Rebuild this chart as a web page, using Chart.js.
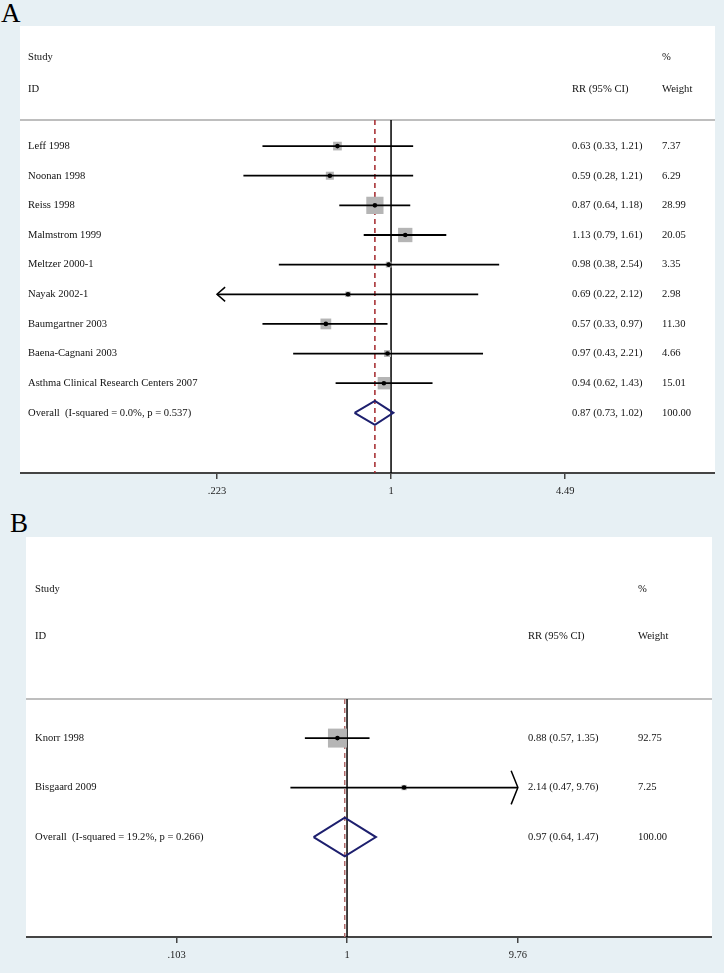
<!DOCTYPE html>
<html>
<head>
<meta charset="utf-8">
<script src="https://cdn.jsdelivr.net/npm/chart.js@4.4.1/dist/chart.umd.min.js"></script>
<style>
  html, body { margin: 0; padding: 0; }
  body { width: 724px; height: 973px; background: #e7f0f4; position: relative; overflow: hidden; font-family: "Liberation Serif", serif; }
  .panel-letter { position: absolute; font-size: 27px; line-height: 1; color: #000; }
  canvas { position: absolute; }
</style>
</head>
<body>
<div class="panel-letter" style="left:1px; top:0px;">A</div>
<div class="panel-letter" style="left:10px; top:510px;">B</div>
<canvas id="forestA" width="695" height="477" style="left:20px; top:26px;"></canvas>
<canvas id="forestB" width="686" height="430" style="left:26px; top:537px;"></canvas>
<script>
// ---- Panel A data ----
const studiesA = ['Leff 1998', 'Noonan 1998', 'Reiss 1998', 'Malmstrom 1999', 'Meltzer 2000-1',
  'Nayak 2002-1', 'Baumgartner 2003', 'Baena-Cagnani 2003', 'Asthma Clinical Research Centers 2007'];
const rrA = [0.63, 0.59, 0.87, 1.13, 0.98, 0.69, 0.57, 0.97, 0.94];
const lowA = [0.33, 0.28, 0.64, 0.79, 0.38, 0.22, 0.33, 0.43, 0.62];
const highA = [1.21, 1.21, 1.18, 1.61, 2.54, 2.12, 0.97, 2.21, 1.43];
const weightA = [7.37, 6.29, 28.99, 20.05, 3.35, 2.98, 11.30, 4.66, 15.01];
const overallLabelA = 'Overall  (I-squared = 0.0%, p = 0.537)';
const overallA = [0.87, 0.73, 1.02]; // estimate, low, high
const ticksA = [0.223, 1, 4.49];
const tickLabelsA = ['.223', '1', '4.49'];

// ---- Panel B data ----
const studiesB = ['Knorr 1998', 'Bisgaard 2009'];
const rrB = [0.88, 2.14];
const lowB = [0.57, 0.47];
const highB = [1.35, 9.76];
const weightB = [92.75, 7.25];
const overallLabelB = 'Overall  (I-squared = 19.2%, p = 0.266)';
const overallB = [0.97, 0.64, 1.47];
const ticksB = [0.103, 1, 9.76];
const tickLabelsB = ['.103', '1', '9.76'];

const FONT = '"Liberation Serif", "Times New Roman", serif';

// texto de columnas (estudio, RR, peso) dibujado sobre el canvas
const forestText = {
  id: 'forestText',
  beforeDraw(chart, args, o) {
    const { ctx, chartArea } = chart;
    ctx.save();
    ctx.fillStyle = '#ffffff';
    ctx.fillRect(0, 0, chart.width, chartArea.bottom);
    // linea separadora del encabezado
    ctx.strokeStyle = '#a8a8a8';
    ctx.lineWidth = 1.5;
    ctx.beginPath();
    ctx.moveTo(0, chartArea.top);
    ctx.lineTo(chart.width, chartArea.top);
    ctx.stroke();
    ctx.restore();
  },
  afterDraw(chart, args, o) {
    const { ctx } = chart;
    const y = chart.scales.y;
    ctx.save();
    ctx.font = `${o.size}px ${FONT}`;
    ctx.fillStyle = '#111';
    ctx.textBaseline = 'middle';
    ctx.textAlign = 'left';
    ctx.fillText('Study', o.nameX, o.head1);
    ctx.fillText('%', o.wX, o.head1);
    ctx.fillText('ID', o.nameX, o.head2);
    ctx.fillText('RR (95% CI)', o.rrX, o.head2);
    ctx.fillText('Weight', o.wX, o.head2);
    const rows = o.names.map((n, i) => [n, o.rr[i], o.low[i], o.high[i], o.weight[i]]);
    rows.push([o.overallLabel, o.overall[0], o.overall[1], o.overall[2], 100]);
    rows.forEach((r, i) => {
      const py = y.getPixelForValue(i);
      ctx.fillText(r[0], o.nameX, py);
      ctx.fillText(`${r[1].toFixed(2)} (${r[2].toFixed(2)}, ${r[3].toFixed(2)})`, o.rrX, py);
      ctx.fillText(r[4].toFixed(2), o.wX, py);
    });
    ctx.restore();
  }
};

function buildForest(canvasId, p) {
  const n = p.names.length;
  const tMin = p.ticks[0];
  const tMax = p.ticks[p.ticks.length - 1];
  const datasets = [];
  const line = (data, color, width, order, extra = {}) => ({
    data, showLine: true, borderColor: color, borderWidth: width,
    pointRadius: 0, tension: 0, order, ...extra
  });

  // lineas verticales: RR = 1 y efecto global
  datasets.push(line([{ x: 1, y: p.yMin }, { x: 1, y: p.yMax }], '#000', 1.5, 9));
  datasets.push(line([{ x: p.overall[0], y: p.yMin }, { x: p.overall[0], y: p.yMax }],
    p.dashColor, 1.5, 8, { borderDash: [5, 4] }));

  // cajas proporcionales al peso
  datasets.push({
    data: p.rr.map((v, i) => ({ x: v, y: i })),
    pointStyle: 'rect',
    pointRadius: p.weight.map(w => p.boxScale * Math.sqrt(w) / Math.SQRT2),
    pointHoverRadius: 0,
    backgroundColor: '#b5b5b5', borderWidth: 0, order: 7
  });

  // intervalos de confianza (+ flechas si salen del rango)
  p.rr.forEach((v, i) => {
    const lo = Math.max(p.low[i], tMin);
    const hi = Math.min(p.high[i], tMax);
    datasets.push(line([{ x: lo, y: i }, { x: hi, y: i }], '#000', 1.8, 5));
    if (p.low[i] <= tMin) {
      const ax = tMin * Math.exp(p.arrowDx);
      datasets.push(line([{ x: ax, y: i - p.arrowDy }, { x: tMin, y: i }, { x: ax, y: i + p.arrowDy }], '#000', 1.5, 5));
    }
    if (p.high[i] >= tMax) {
      const ax = tMax / Math.exp(p.arrowDx);
      datasets.push(line([{ x: ax, y: i - p.arrowDy }, { x: tMax, y: i }, { x: ax, y: i + p.arrowDy }], '#000', 1.5, 5));
    }
  });

  // puntos centrales
  datasets.push({
    data: p.rr.map((v, i) => ({ x: v, y: i })),
    pointStyle: 'circle', pointRadius: 2.3, pointHoverRadius: 0,
    backgroundColor: '#000', borderWidth: 0, order: 1
  });

  // diamante del efecto global
  const [est, olo, ohi] = p.overall;
  datasets.push(line([
    { x: olo, y: n }, { x: est, y: n - p.diamondH }, { x: ohi, y: n },
    { x: est, y: n + p.diamondH }, { x: olo, y: n }
  ], '#1d1f6e', 2, 2));

  return new Chart(document.getElementById(canvasId), {
    type: 'scatter',
    data: { datasets },
    plugins: [forestText],
    options: {
      responsive: false,
      devicePixelRatio: 1,
      animation: false,
      events: [],
      layout: { autoPadding: false, padding: { top: p.padTop, left: 0, right: 0, bottom: 0 } },
      plugins: {
        legend: { display: false },
        tooltip: { enabled: false },
        forestText: p
      },
      scales: {
        x: {
          type: 'logarithmic',
          min: p.xMin, max: p.xMax,
          afterBuildTicks: (scale) => { scale.ticks = p.ticks.map(v => ({ value: v })); },
          afterFit: (scale) => { scale.height = 30; },
          ticks: {
            autoSkip: false, maxRotation: 0, padding: 6,
            color: '#222', font: { family: FONT, size: 10.5 },
            callback: (v) => p.tickLabels[p.ticks.indexOf(v)]
          },
          grid: { drawOnChartArea: false, drawTicks: true, tickLength: 6, color: '#444', lineWidth: 1.5 },
          border: { display: true, color: '#444', width: 2 }
        },
        y: { display: false, reverse: true, min: p.yMin, max: p.yMax }
      }
    }
  });
}

buildForest('forestA', {
  names: studiesA, rr: rrA, low: lowA, high: highA, weight: weightA,
  overall: overallA, overallLabel: overallLabelA,
  ticks: ticksA, tickLabels: tickLabelsA,
  xMin: 0.0408, xMax: 16.33, yMin: -0.88, yMax: 11.03, padTop: 94,
  boxScale: 3.2, diamondH: 0.405, arrowDx: 0.07, arrowDy: 0.24,
  dashColor: '#a3262a',
  size: 10.6, nameX: 8, rrX: 552, wX: 642, head1: 31, head2: 63
});

buildForest('forestB', {
  names: studiesB, rr: rrB, low: lowB, high: highB, weight: weightB,
  overall: overallB, overallLabel: overallLabelB,
  ticks: ticksB, tickLabels: tickLabelsB,
  xMin: 0.01383, xMax: 129.9, yMin: -0.79, yMax: 4.02, padTop: 162,
  boxScale: 1.97, diamondH: 0.39, arrowDx: 0.09, arrowDy: 0.34,
  dashColor: '#b06b6b',
  size: 10.6, nameX: 9, rrX: 502, wX: 612, head1: 52, head2: 99
});
</script>
</body>
</html>
